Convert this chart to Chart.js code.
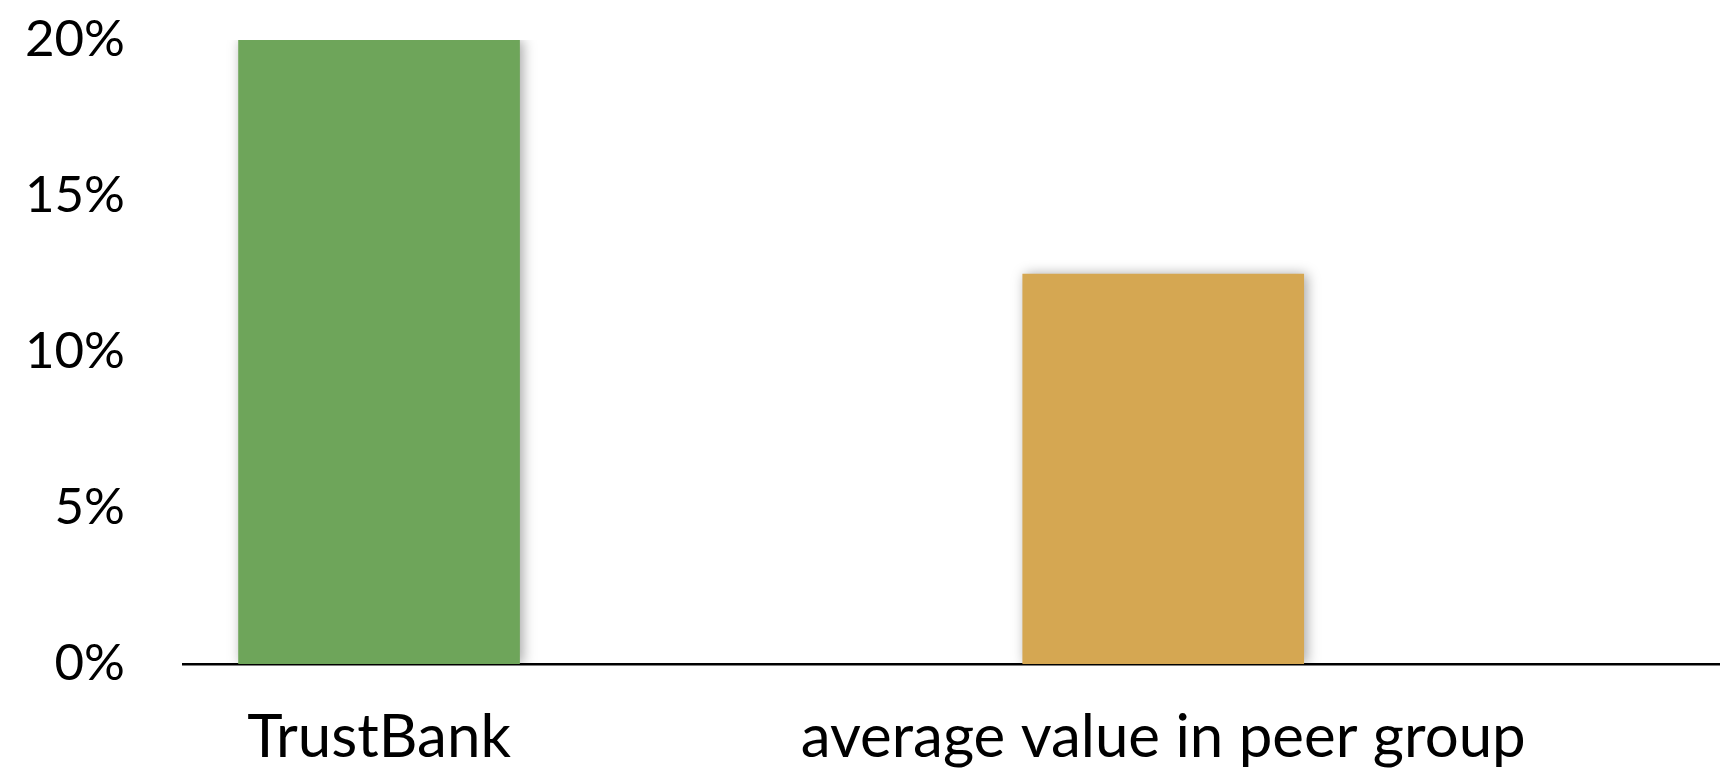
<!DOCTYPE html>
<html>
<head>
<meta charset="utf-8">
<script src="https://cdn.jsdelivr.net/npm/chart.js@4/dist/chart.umd.min.js"></script>
<style>
  html, body { margin: 0; padding: 0; background: #ffffff; }
  #wrap { width: 1720px; height: 768px; position: relative; }
</style>
</head>
<body>
<div id="wrap"><canvas id="chart"></canvas></div>
<script>
// Categories and their values (percent)
const categories = ['TrustBank', 'average value in peer group'];
const values = [20, 12.5];
const barColors = ['#6ea55a', '#d5a752'];
const yTicks = [0, 5, 10, 15, 20];

// Soft drop shadow under the bars
const barShadow = {
  id: 'barShadow',
  beforeDatasetsDraw(chart) {
    const ctx = chart.ctx;
    ctx.save();
    ctx.shadowColor = 'rgba(0,0,0,0.35)';
    ctx.shadowBlur = 12;
    ctx.shadowOffsetX = 3;
    ctx.shadowOffsetY = 0;
  },
  afterDatasetsDraw(chart) {
    chart.ctx.restore();
  }
};

new Chart(document.getElementById('chart'), {
  type: 'bar',
  data: {
    datasets: [{
      data: categories.map((c, i) => ({ x: i, y: values[i] })),
      backgroundColor: barColors,
      borderWidth: 0,
      barThickness: 281
    }]
  },
  options: {
    responsive: true,
    maintainAspectRatio: false,
    animation: false,
    layout: { padding: { top: 40, left: 0, right: 0, bottom: 0 } },
    plugins: { legend: { display: false }, tooltip: { enabled: false } },
    scales: {
      x: {
        type: 'linear',
        offset: false,
        min: -0.25,
        max: 1.71,
        afterBuildTicks(scale) {
          scale.ticks = categories.map((c, i) => ({ value: i }));
        },
        afterFit(scale) { scale.height = 104; },
        grid: { display: false, drawTicks: false },
        border: { display: true, color: '#000000', width: 2.5 },
        ticks: {
          padding: 38,
          color: '#000000',
          font: { family: 'Lato', size: 60 },
          callback: (v) => categories[v] ?? ''
        }
      },
      y: {
        min: 0,
        max: 20,
        afterBuildTicks(scale) {
          scale.ticks = yTicks.map(v => ({ value: v }));
        },
        afterFit(scale) {
          scale.width = 183;
          scale.paddingTop = 0;
          scale.paddingBottom = 0;
        },
        grid: { display: false, drawTicks: false },
        border: { display: false },
        ticks: {
          padding: 58,
          color: '#000000',
          font: { family: 'Lato', size: 51 },
          callback: (v) => v + '%'
        }
      }
    }
  },
  plugins: [barShadow]
});
</script>
</body>
</html>
